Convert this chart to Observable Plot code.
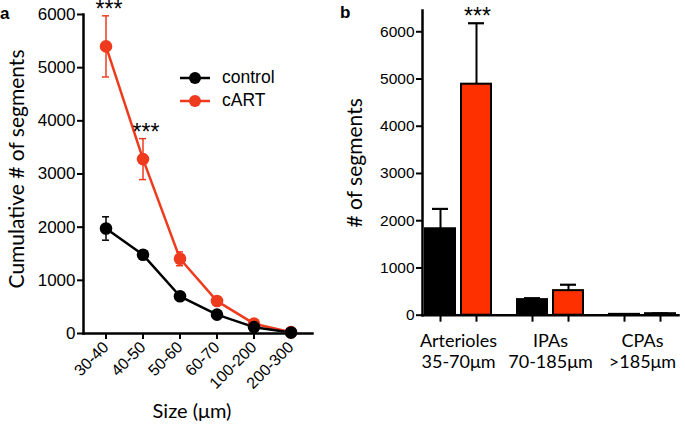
<!DOCTYPE html>
<html>
<head>
<meta charset="utf-8">
<script src="https://cdn.jsdelivr.net/npm/d3@7"></script>
<script src="https://cdn.jsdelivr.net/npm/@observablehq/plot@0.6"></script>
<style>
  html, body { margin: 0; padding: 0; background: #fff; }
  #wrap { position: relative; width: 685px; height: 430px; overflow: hidden; font-family: "Liberation Sans", Arial, sans-serif; }
  #panelA { position: absolute; left: 0; top: 0; }
  #panelB { position: absolute; left: 340px; top: 0; }
  .tag { position: absolute; font-weight: bold; font-size: 17px; color: #000; }
  #legend { position: absolute; left: 180px; top: 66px; font-size: 17.5px; color: #000; }
  #legend .row { display: flex; align-items: center; height: 23px; }
  #legend svg { margin-right: 12px; }
  text.sig { letter-spacing: 2px; }
  #panelA g[aria-label="y-axis tick label"] text { font-size: 17px !important; }
  #panelA g[aria-label="x-axis tick label"] text { font-size: 16px !important; }
  #panelB g[aria-label="y-axis tick label"] text { font-size: 15.5px !important; }
</style>
</head>
<body>
<div id="wrap">
  <div id="panelA"></div>
  <div id="panelB"></div>
  <div class="tag" style="left:0px; top:4px;">a</div>
  <div class="tag" style="left:340px; top:3px;">b</div>
  <div id="legend"></div>
</div>
<script>
// ---------- Panel a data ----------
const sizes = ["30-40", "40-50", "50-60", "60-70", "100-200", "200-300"];
const controlMean = [1975, 1480, 700, 355, 120, 20];
const controlSem = [220, 40, 40, 30, 20, 5];
const cartMean = [5400, 3280, 1405, 610, 185, 25];
const cartSem = [575, 385, 130, 40, 30, 5];
const sigA = ["***", "***", "", "", "", ""];
const yTicksA = [0, 1000, 2000, 3000, 4000, 5000, 6000];

// ---------- Panel b data ----------
const groupsB = ["Arterioles\n35-70\u03bcm", "IPAs\n70-185\u03bcm", "CPAs\n>185\u03bcm"];
const controlB = [1830, 330, 18];
const controlBSem = [420, 30, 4];
const cartB = [4890, 520, 32];
const cartBSem = [1290, 125, 6];
const sigB = ["***", "", ""];
const yTicksB = [0, 1000, 2000, 3000, 4000, 5000, 6000];

const seriesNames = ["control", "cART"];
const lineColors = ["#000000", "#ee3b1d"];
const barColors = ["#000000", "#ff3000"];

// ---------- build rows ----------
const rowsA = sizes.flatMap((s, i) => [
  {size: s, series: "cART", mean: cartMean[i], sem: cartSem[i], sig: sigA[i]},
  {size: s, series: "control", mean: controlMean[i], sem: controlSem[i], sig: ""}
]);
const rowsB = groupsB.flatMap((g, i) => [
  {group: g, series: "control", mean: controlB[i], sem: controlBSem[i], sig: ""},
  {group: g, series: "cART", mean: cartB[i], sem: cartBSem[i], sig: sigB[i]}
]);

const titleFont = "Lato, 'Open Sans', sans-serif";
const tickFont = "'Liberation Sans', Arial, sans-serif";

// ---------- Panel a ----------
const plotA = Plot.plot({
  width: 340, height: 430,
  marginLeft: 83, marginRight: 28, marginTop: 14, marginBottom: 97,
  style: {fontFamily: tickFont, fontSize: "16px", color: "#000", background: "transparent", overflow: "visible"},
  x: {type: "band", domain: sizes, paddingInner: 0.813, paddingOuter: 0.4565},
  y: {domain: [0, 6000]},
  color: {domain: seriesNames, range: lineColors},
  marks: [
    Plot.frame({anchor: "bottom", stroke: "#000", strokeWidth: 2.5}),
    Plot.frame({anchor: "left", stroke: "#000", strokeWidth: 2.5}),
    Plot.axisY({ticks: yTicksA, tickFormat: d3.format("d"), tickSize: 6, tickPadding: 2, strokeWidth: 2, label: null, fontSize: 17}),
    Plot.axisX({tickSize: 6, tickPadding: 5, tickRotate: -45, strokeWidth: 2, label: null, fontSize: 16}),
    Plot.text(["Cumulative # of segments"], {text: d => d, frameAnchor: "left", textAnchor: "middle", rotate: -90, dx: -66, dy: -5, fontFamily: titleFont, fontSize: 21}),
    Plot.text(["Size (\u03bcm)"], {text: d => d, frameAnchor: "bottom", textAnchor: "middle", dx: -6, dy: 84, fontFamily: titleFont, fontSize: 20}),
    // error bars
    Plot.ruleX(rowsA, {x: "size", y1: d => d.mean - d.sem, y2: d => d.mean + d.sem, stroke: "series", strokeWidth: 1.5}),
    Plot.tickY(rowsA, {x: "size", y: d => d.mean + d.sem, stroke: "series", strokeWidth: 1.5}),
    Plot.tickY(rowsA, {x: "size", y: d => d.mean - d.sem, stroke: "series", strokeWidth: 1.5}),
    // lines and dots
    Plot.line(rowsA, {x: "size", y: "mean", stroke: "series", strokeWidth: 2.5}),
    Plot.dot(rowsA, {x: "size", y: "mean", fill: "series", r: 6.3}),
    // significance
    Plot.text(rowsA.filter(d => d.sig), {x: "size", y: d => d.mean + d.sem, text: "sig", dx: 3, dy: -6, fontSize: 23, className: "sig"})
  ]
});
document.getElementById("panelA").append(plotA);

// ---------- Panel b ----------
const plotB = Plot.plot({
  width: 345, height: 430,
  marginLeft: 80, marginRight: 5, marginTop: 10, marginBottom: 115.3,
  style: {fontFamily: tickFont, fontSize: "15px", color: "#000", background: "transparent", overflow: "visible"},
  fx: {domain: groupsB, paddingInner: 0.22, paddingOuter: 0.015, label: null},
  x: {domain: seriesNames, paddingInner: 0.167, paddingOuter: 0.083, label: null, axis: null},
  y: {domain: [0, 6450]},
  color: {domain: seriesNames, range: barColors},
  marks: [
    Plot.barY(rowsB, {fx: "group", x: "series", y: "mean", fill: "series", stroke: "#000", strokeWidth: 2}),
    Plot.ruleX(rowsB, {fx: "group", x: "series", y1: "mean", y2: d => d.mean + d.sem, stroke: "#000", strokeWidth: 2}),
    Plot.tickY(rowsB, {fx: "group", x: "series", y: d => d.mean + d.sem, stroke: "#000", strokeWidth: 2.2, insetLeft: 7, insetRight: 7}),
    Plot.text(rowsB.filter(d => d.sig), {fx: "group", x: "series", y: d => d.mean + d.sem, text: "sig", dx: 1, dy: -7, fontSize: 23, className: "sig"}),
    // per-bar tick marks below the baseline
    Plot.ruleX(rowsB, {fx: "group", x: "series", y1: 0, y2: 0, insetBottom: -7, stroke: "#000", strokeWidth: 2}),
    Plot.frame({facet: "super", anchor: "bottom", stroke: "#000", strokeWidth: 2.5}),
    Plot.frame({facet: "super", anchor: "left", stroke: "#000", strokeWidth: 2.5}),
    Plot.axisY({ticks: yTicksB, tickFormat: d3.format("d"), tickSize: 6, tickPadding: 2, strokeWidth: 2, label: null, fontSize: 15.5}),
    Plot.axisFx({anchor: "bottom", tickSize: 0, tickPadding: 17, label: null, fontFamily: titleFont, fontSize: 18, lineHeight: 1.15}),
    Plot.text(["# of segments"], {facet: "super", text: d => d, frameAnchor: "left", textAnchor: "middle", rotate: -90, dx: -67, fontFamily: titleFont, fontSize: 21})
  ]
});
document.getElementById("panelB").append(plotB);

// ---------- legend ----------
const legend = d3.select("#legend");
seriesNames.forEach((name, i) => {
  const row = legend.append("div").attr("class", "row");
  const svg = row.append("svg").attr("width", 30).attr("height", 14);
  svg.append("line").attr("x1", 0).attr("x2", 30).attr("y1", 7).attr("y2", 7)
    .attr("stroke", lineColors[i]).attr("stroke-width", 2.5);
  svg.append("circle").attr("cx", 15).attr("cy", 7).attr("r", 6).attr("fill", lineColors[i]);
  row.append("span").text(name);
});
</script>
</body>
</html>
